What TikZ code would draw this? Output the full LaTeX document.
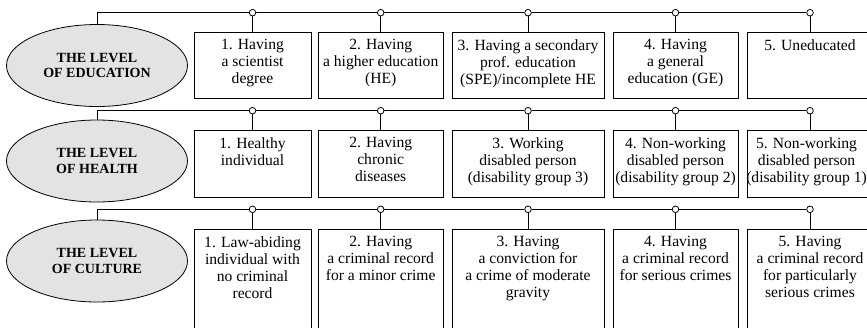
\documentclass[tikz,border=0pt]{standalone}
\usepackage{fontspec}
\setmainfont{Liberation Serif}
\usetikzlibrary{shapes.geometric}
\definecolor{levelfill}{RGB}{227,227,227}

\begin{document}
\begin{tikzpicture}[x=1pt,y=-1pt,line width=0.8pt]
	\tikzstyle{levelellipse}=[ellipse,draw,fill=levelfill,minimum width=181,minimum height=82,
		inner sep=0pt,align=center,font=\fontsize{14}{15.7}\selectfont\bfseries]
	\tikzstyle{itembox}=[draw,rectangle,anchor=north,inner sep=0pt]
	\tikzstyle{itemtext}=[anchor=north,align=center,inner xsep=1pt,inner ysep=7pt,
		font=\fontsize{15.6}{17}\selectfont]
	\tikzstyle{joint}=[circle,draw,fill=white,inner sep=0pt,minimum size=6.6]
	\path[use as bounding box,clip] (0,0) rectangle (867,327);
	% education
	\node[levelellipse] (edu) at (97,65.5) {THE LEVEL\\OF EDUCATION};
	\foreach \i/\x/\w/\t in {1/252.5/117/{1. Having\\a scientist\\degree},
		2/380.7/125.5/{2. Having\\a higher education\\(HE)},
		3/528/152/{3. Having a secondary\\prof. education\\(SPE)/incomplete HE},
		4/675.5/125/{4. Having\\a general\\education (GE)},
		5/810/126/{5. Uneducated}}{
		\node[itembox,minimum width=\w,minimum height=66] (e\i) at (\x,32) {};
		\node[itemtext] (et\i) at (e\i.north) {\t};
		\node[joint] (ej\i) at (\x,12.7) {};
		\draw (ej\i) -- (e\i);
	}
	\draw (edu.north) |- (ej1) -- (ej2) -- (ej3) -- (ej4) -- (ej5);
	% health
	\node[levelellipse] (hea) at (97,161) {THE LEVEL\\OF HEALTH};
	\foreach \i/\x/\w/\t in {1/252.5/117/{1. Healthy\\individual},
		2/380.7/125.5/{2. Having\\chronic\\diseases},
		3/528/152/{3. Working\\disabled person\\(disability group 3)},
		4/675.5/125/{4. Non-working\\disabled person\\(disability group 2)}}{
		\node[itembox,minimum width=\w,minimum height=67] (h\i) at (\x,130) {};
		\node[itemtext] (ht\i) at (h\i.north) {\t};
		\node[joint] (hj\i) at (\x,110.7) {};
		\draw (hj\i) -- (h\i);
	}
	\node[itembox,minimum width=126,minimum height=67] (h5) at (810,130) {};
	\node[itemtext,xshift=-3.5pt] (ht5) at (h5.north) {5. Non-working\\disabled person\\(disability group 1)};
	\node[joint] (hj5) at (810,110.7) {};
	\draw (hj5) -- (h5);
	\draw (hea.north) |- (hj1) -- (hj2) -- (hj3) -- (hj4) -- (hj5);
	% culture
	\node[levelellipse] (cul) at (97,261) {THE LEVEL\\OF CULTURE};
	\foreach \i/\x/\w/\t in {1/252.5/117/{1. Law-abiding\\individual with\\no criminal\\record},
		2/380.7/125.5/{2. Having\\a criminal record\\for a minor crime},
		3/528/152/{3. Having\\a conviction for\\a crime of moderate\\gravity},
		4/675.5/125/{4. Having\\a criminal record\\for serious crimes},
		5/810/126/{5. Having\\a criminal record\\for particularly\\serious crimes}}{
		\node[itembox,minimum width=\w,minimum height=110] (c\i) at (\x,229) {};
		\node[itemtext] (ct\i) at (c\i.north) {\t};
		\node[joint] (cj\i) at (\x,209.3) {};
		\draw (cj\i) -- (c\i);
	}
	\draw (cul.north) |- (cj1) -- (cj2) -- (cj3) -- (cj4) -- (cj5);
\end{tikzpicture}
\end{document}
